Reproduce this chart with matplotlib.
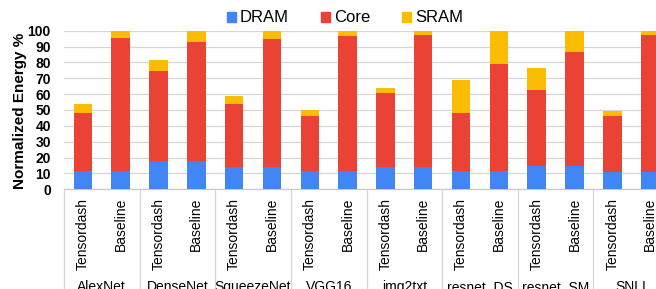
import matplotlib
matplotlib.use("Agg")
import matplotlib.pyplot as plt
import matplotlib.transforms as mtransforms
from matplotlib.patches import Patch
import numpy as np

plt.rcParams['font.family'] = ['Liberation Sans', 'DejaVu Sans']

# networks, each with a Tensordash and a Baseline bar
networks = ["AlexNet", "DenseNet", "SqueezeNet", "VGG16", "img2txt", "resnet_DS", "resnet_SM", "SNLI"]
bar_labels = ["Tensordash", "Baseline"] * len(networks)

# stacked segment values (normalized energy %)
dram = [11.3, 11.3, 17.6, 17.6, 13.8, 13.8, 11.5, 11.5, 13.8, 13.8, 11.3, 11.3, 14.5, 14.5, 10.9, 10.9]
core = [37.0, 84.0, 57.2, 75.3, 39.8, 80.8, 34.9, 85.2, 46.9, 83.4, 36.8, 67.9, 48.3, 72.1, 35.5, 86.4]
sram = [5.3, 4.7, 7.0, 7.1, 5.4, 5.4, 3.8, 3.3, 3.2, 2.8, 21.0, 20.8, 13.5, 13.4, 3.0, 2.7]

series_names = ["DRAM", "Core", "SRAM"]
colors = ["#4285F4", "#EA4335", "#FBBC04"]

fig = plt.figure(figsize=(6.56, 2.89), dpi=100)
# axes runs a bit past the right edge, so the last bar is cut like in the original
ax = fig.add_axes([64 / 656, 1 - 189.2 / 289, 605 / 656, 158.5 / 289])

x = np.arange(len(bar_labels))
bottom = np.zeros(len(bar_labels))
for vals, name, col in zip([dram, core, sram], series_names, colors):
    ax.bar(x, vals, width=0.49, bottom=bottom, color=col, label=name, zorder=3)
    bottom += np.array(vals)

ax.set_ylim(0, 100)
ax.set_xlim(-0.5, len(bar_labels) - 0.5)
ax.set_yticks(np.arange(0, 101, 10))
ax.tick_params(axis='y', length=0, pad=9.5, labelsize=10)
for lbl in ax.get_yticklabels():
    lbl.set_fontweight('bold')
ax.yaxis.grid(True, color='#d6d6d6', linewidth=0.9, zorder=0)

ax.set_xticks(x)
ax.set_xticklabels(bar_labels, rotation=90, fontsize=10)
ax.tick_params(axis='x', length=0, pad=6)

for side in ['left', 'right', 'top']:
    ax.spines[side].set_visible(False)
ax.spines['bottom'].set_color('#c8c8c8')

# group separators and network names below the axis
trans = mtransforms.blended_transform_factory(ax.transData, ax.transAxes)
for k in range(len(networks) + 1):
    ax.plot([2 * k - 0.5, 2 * k - 0.5], [0, -0.7], transform=trans,
            color='#d6d6d6', linewidth=0.9, clip_on=False)
for k, name in enumerate(networks):
    ax.text(2 * k + 0.5, -0.575, name, transform=trans, ha='center', va='top', fontsize=10)

fig.text(20 / 656, 1 - 110.5 / 289, "Normalized Energy %", rotation=90,
         ha='center', va='center', fontsize=11, fontweight='bold')

handles = [Patch(color=c) for c in colors]
fig.legend(handles, series_names, loc='center', bbox_to_anchor=(0.526, 0.938), ncol=3,
           frameon=False, fontsize=12, handlelength=0.55, handleheight=0.55,
           handletextpad=0.25, columnspacing=1.9)

fig.savefig("out.png", dpi=100)
